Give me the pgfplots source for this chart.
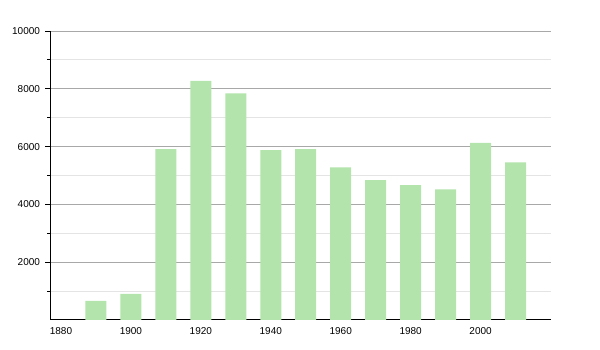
\documentclass[border=0pt]{standalone}
\usepackage{fontspec}
\setmainfont{Liberation Sans}
\usepackage{pgfplots}
\pgfplotsset{compat=1.18}
\definecolor{barg}{RGB}{178,228,172}
\definecolor{majg}{RGB}{168,168,168}
\definecolor{ming}{RGB}{228,228,228}
\begin{document}
\begin{tikzpicture}[x=1pt,y=1pt]
\path[use as bounding box] (0,0) rectangle (600,350);
\begin{axis}[
  at={(50.5pt,30pt)}, anchor=south west,
  scale only axis, width=500pt, height=289pt,
  xmin=1877, xmax=2020, ymin=0, ymax=10000,
  axis x line*=bottom, axis y line*=left,
  axis line style={black, line width=1pt},
  xtick={1880,1900,...,2000},
  ytick={2000,4000,...,10000},
  minor ytick={1000,3000,...,9000},
  x tick style={draw=none},
  y tick style={black, line width=0.8pt},
  tick align=outside,
  major tick length=5pt, minor tick length=3pt,
  ymajorgrids, yminorgrids,
  major grid style={majg, line width=0.8pt},
  minor grid style={ming, line width=0.8pt},
  /pgf/number format/1000 sep={},
  /pgf/number format/assume math mode=true,
  tick label style={font=\fontsize{10}{12}\selectfont},
  yticklabel style={xshift=-2pt},
  xticklabel style={yshift=1pt},
  scaled ticks=false,
  clip=false,
]
\addplot[ybar, bar width=21pt, fill=barg, draw=none] coordinates {
(1890,660) (1900,900) (1910,5910) (1920,8270) (1930,7840) (1940,5880)
(1950,5910) (1960,5280) (1970,4840) (1980,4665) (1990,4520) (2000,6130) (2010,5455)
};
\end{axis}
\end{tikzpicture}
\end{document}
